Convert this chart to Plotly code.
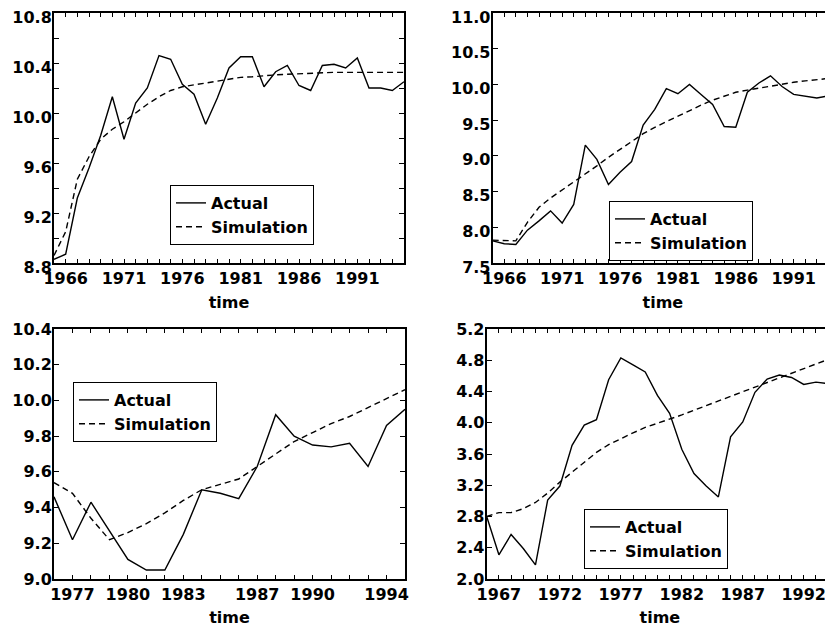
import plotly.graph_objects as go

# ---------------- data ----------------
years1 = list(range(1965, 1996))
actual1 = [8.83, 8.87, 9.32, 9.56, 9.82, 10.13, 9.79, 10.08, 10.20, 10.46, 10.43,
           10.23, 10.15, 9.91, 10.12, 10.36, 10.45, 10.45, 10.21, 10.33, 10.38,
           10.22, 10.18, 10.38, 10.39, 10.36, 10.44, 10.20, 10.20, 10.18, 10.25]
sim1 = [8.86, 9.05, 9.47, 9.65, 9.79, 9.87, 9.93, 10.00, 10.07, 10.13, 10.18,
        10.21, 10.225, 10.24, 10.255, 10.27, 10.285, 10.29, 10.30, 10.305, 10.31,
        10.315, 10.32, 10.32, 10.325, 10.325, 10.325, 10.325, 10.325, 10.325, 10.325]

years2 = list(range(1965, 1996))
actual2 = [7.81, 7.77, 7.76, 7.96, 8.09, 8.23, 8.06, 8.32, 9.15, 8.95, 8.60,
           8.77, 8.92, 9.43, 9.65, 9.94, 9.87, 10.00, 9.86, 9.72, 9.41,
           9.40, 9.89, 10.02, 10.12, 9.97, 9.86, 9.84, 9.81, 9.84, 10.45]
sim2 = [7.82, 7.82, 7.81, 8.07, 8.28, 8.41, 8.52, 8.64, 8.74, 8.86, 8.98,
        9.09, 9.21, 9.31, 9.40, 9.48, 9.56, 9.64, 9.71, 9.78, 9.84,
        9.89, 9.92, 9.95, 9.97, 10.00, 10.03, 10.05, 10.07, 10.08, 10.10]

years3 = list(range(1976, 1996))
actual3 = [9.46, 9.22, 9.43, 9.27, 9.11, 9.05, 9.05, 9.25, 9.50, 9.48,
           9.45, 9.63, 9.92, 9.80, 9.75, 9.74, 9.76, 9.63, 9.86, 9.95]
sim3 = [9.54, 9.48, 9.34, 9.22, 9.26, 9.31, 9.37, 9.44, 9.50, 9.53,
        9.56, 9.63, 9.70, 9.77, 9.82, 9.87, 9.91, 9.96, 10.01, 10.06]

years4 = list(range(1966, 1996))
actual4 = [2.80, 2.31, 2.57, 2.39, 2.18, 3.01, 3.19, 3.71, 3.97, 4.04,
           4.55, 4.83, 4.74, 4.65, 4.35, 4.12, 3.66, 3.35, 3.19, 3.05,
           3.82, 4.01, 4.39, 4.56, 4.61, 4.58, 4.49, 4.52, 4.50, 4.40]
sim4 = [2.80, 2.85, 2.85, 2.90, 2.98, 3.10, 3.24, 3.37, 3.50, 3.62,
        3.72, 3.80, 3.87, 3.94, 3.99, 4.05, 4.10, 4.16, 4.22, 4.28,
        4.34, 4.40, 4.45, 4.51, 4.57, 4.63, 4.69, 4.75, 4.81, 4.87]

xlabels1 = [1966, 1971, 1976, 1981, 1986, 1991]
xlabels2 = [1966, 1971, 1976, 1981, 1986, 1991]
xlabels3 = [1977, 1980, 1983, 1987, 1990, 1994]
xlabels4 = [1967, 1972, 1977, 1982, 1987, 1992]

yticks1 = [8.8, 9.0, 9.2, 9.4, 9.6, 9.8, 10.0, 10.2, 10.4, 10.6, 10.8]
ylabels1 = [8.8, 9.2, 9.6, 10.0, 10.4, 10.8]
yticks2 = [7.5, 8.0, 8.5, 9.0, 9.5, 10.0, 10.5, 11.0]
ylabels2 = yticks2
yticks3 = [9.0, 9.2, 9.4, 9.6, 9.8, 10.0, 10.2, 10.4]
ylabels3 = yticks3
yticks4 = [2.0, 2.4, 2.8, 3.2, 3.6, 4.0, 4.4, 4.8, 5.2]
ylabels4 = yticks4

FONT = "DejaVu Sans"
FS = 16
TFONT = dict(family=FONT, size=FS, color="black", weight="bold")

# page body has an 8px margin: figure is sized to fit the window
W, H = 825, 619
OFF = 8


def fx(px):
    return (px - OFF) / W


def fy(py):
    return 1 - (py - OFF) / H


fig = go.Figure()

panels = [
    (years1, actual1, sim1, "", "legend"),
    (years2, actual2, sim2, "2", "legend2"),
    (years3, actual3, sim3, "3", "legend3"),
    (years4, actual4, sim4, "4", "legend4"),
]
for yrs, act, sim, s, lg in panels:
    fig.add_trace(go.Scatter(x=yrs, y=act, mode="lines", name="Actual",
                             line=dict(color="black", width=1.4),
                             xaxis="x" + s, yaxis="y" + s, legend=lg))
    fig.add_trace(go.Scatter(x=yrs, y=sim, mode="lines", name="Simulation",
                             line=dict(color="black", width=1.4, dash="6px,4px"),
                             xaxis="x" + s, yaxis="y" + s, legend=lg))


def xaxis(domain, rng, anchor, labels):
    vals = list(range(int(rng[0]), int(rng[1]) + 1))
    text = [str(v) if v in labels else "" for v in vals]
    return dict(domain=domain, range=rng, anchor=anchor, tickvals=vals, ticktext=text,
                ticks="inside", ticklen=4, tickwidth=1, tickcolor="black",
                showline=True, linewidth=2, linecolor="black", mirror="ticks",
                showgrid=False, zeroline=False, automargin=False,
                tickfont=TFONT, ticklabelstandoff=0, ticklabeloverflow="allow",
                title=dict(text="time", font=TFONT, standoff=10))


def yaxis(domain, rng, anchor, ticks, labels, mirror=True, shift=0):
    text = [f"{v:.1f}" if v in labels else "" for v in ticks]
    return dict(domain=domain, range=rng, anchor=anchor, tickvals=ticks, ticktext=text,
                ticks="inside", ticklen=5, tickwidth=1, tickcolor="black",
                showline=True, linewidth=2, linecolor="black",
                mirror="ticks" if mirror else False,
                showgrid=False, zeroline=False, automargin=False, ticklabelstandoff=-3,
                ticklabelshift=shift, ticklabeloverflow="allow", tickfont=TFONT)


top = [fy(263), fy(13)]
bot = [fy(579), fy(329)]


def legend(x, y):
    return dict(x=fx(x), y=fy(y), xanchor="left", yanchor="top", bgcolor="white",
                bordercolor="black", borderwidth=1, font=TFONT,
                itemwidth=30, tracegroupgap=0)


fig.update_layout(
    width=W, height=H,
    margin=dict(l=0, r=0, t=0, b=0, autoexpand=False),
    paper_bgcolor="white", plot_bgcolor="white",
    showlegend=True,
    xaxis=xaxis([fx(54), fx(404)], [1965, 1995], "y", xlabels1),
    yaxis=yaxis(top, [8.8, 10.8], "x", yticks1, ylabels1, shift=4),
    xaxis2=xaxis([fx(492.7), 1.0], [1965, 1994.4], "y2", xlabels2),
    yaxis2=yaxis(top, [7.5, 11.0], "x2", yticks2, ylabels2, mirror=False, shift=4),
    xaxis3=xaxis([fx(54), fx(405)], [1976, 1995], "y3", xlabels3),
    yaxis3=yaxis(bot, [9.0, 10.4], "x3", yticks3, ylabels3),
    xaxis4=xaxis([fx(486.7), 1.0], [1966, 1994.4], "y4", xlabels4),
    yaxis4=yaxis(bot, [2.0, 5.2], "x4", yticks4, ylabels4, mirror=False),
    legend=legend(170, 185),
    legend2=legend(609, 201),
    legend3=legend(73, 382),
    legend4=legend(584, 509),
)

fig.write_html("out.html")
